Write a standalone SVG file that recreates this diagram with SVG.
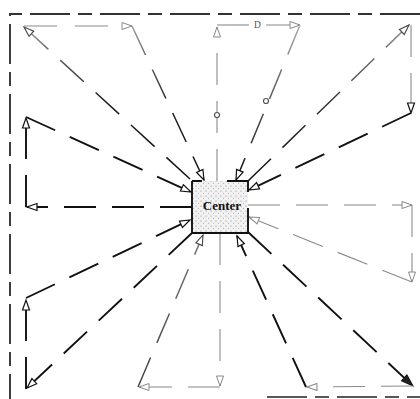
<svg xmlns="http://www.w3.org/2000/svg" width="420" height="399" viewBox="0 0 420 399">
<style>
  line, path.c { fill:none; stroke-dasharray:32 16; }
  .k { stroke:#111; stroke-width:1.9; }
  .m { stroke-width:1.5; }
  .g { stroke:#8a8a8a; stroke-width:1.1; }
  .frame { fill:none; stroke-dasharray:40 8 14 8; }
  .solid { stroke-dasharray:none; }
  .lbl { font-family:"Liberation Serif", "Times New Roman", serif; }
</style>
<defs>
  <linearGradient id="gS1" gradientUnits="userSpaceOnUse" x1="24" y1="27" x2="190" y2="179">
    <stop offset="0" stop-color="#999"/><stop offset="0.45" stop-color="#222"/><stop offset="1" stop-color="#111"/>
  </linearGradient>
  <linearGradient id="gS3" gradientUnits="userSpaceOnUse" x1="132" y1="26" x2="204" y2="180">
    <stop offset="0" stop-color="#999"/><stop offset="0.5" stop-color="#222"/><stop offset="1" stop-color="#111"/>
  </linearGradient>
  <linearGradient id="gS6" gradientUnits="userSpaceOnUse" x1="300" y1="25" x2="236" y2="180">
    <stop offset="0" stop-color="#aaa"/><stop offset="0.5" stop-color="#555"/><stop offset="1" stop-color="#111"/>
  </linearGradient>
  <linearGradient id="gS7" gradientUnits="userSpaceOnUse" x1="409" y1="25" x2="248" y2="181">
    <stop offset="0" stop-color="#999"/><stop offset="0.5" stop-color="#333"/><stop offset="1" stop-color="#111"/>
  </linearGradient>
  <linearGradient id="gS18" gradientUnits="userSpaceOnUse" x1="138" y1="387" x2="203" y2="235">
    <stop offset="0" stop-color="#444"/><stop offset="1" stop-color="#777"/>
  </linearGradient>
  <marker id="aK" markerUnits="userSpaceOnUse" markerWidth="12" markerHeight="9" refX="10" refY="3.5" orient="auto" overflow="visible">
    <path d="M0,0 L10,3.5 L0,7 z" fill="#fff" stroke="#111" stroke-width="1.2"/>
  </marker>
  <marker id="aM" markerUnits="userSpaceOnUse" markerWidth="12" markerHeight="9" refX="10" refY="3.5" orient="auto" overflow="visible">
    <path d="M0,0 L10,3.5 L0,7 z" fill="#fff" stroke="#444" stroke-width="1.1"/>
  </marker>
  <marker id="aG" markerUnits="userSpaceOnUse" markerWidth="12" markerHeight="9" refX="10" refY="3.5" orient="auto" overflow="visible">
    <path d="M0,0 L10,3.5 L0,7 z" fill="#fff" stroke="#888" stroke-width="1"/>
  </marker>
  <marker id="aF" markerUnits="userSpaceOnUse" markerWidth="14" markerHeight="10" refX="12" refY="4" orient="auto" overflow="visible">
    <path d="M0,0 L12,4 L0,8 z" fill="#222" stroke="#111" stroke-width="1"/>
  </marker>
  <pattern id="stip" width="5" height="5" patternUnits="userSpaceOnUse">
    <rect width="5" height="5" fill="#f2f2f2"/>
    <circle cx="1" cy="1" r="0.6" fill="#888"/>
    <circle cx="3.5" cy="3.2" r="0.5" fill="#999"/>
  </pattern>
</defs>

<g id="frame">
  <path class="frame" d="M420,14 L10,14 L10,399" stroke="#333" stroke-width="1.9"/>
  <line class="frame" x1="267" y1="397" x2="420" y2="397" stroke="#222" stroke-width="1.6" style="stroke-dasharray:40 8 14 8"/>
</g>

<g id="connectors">
  <!-- top-left loop -->
  <line class="m" stroke="url(#gS1)" x1="190" y1="179" x2="24" y2="27" marker-end="url(#aM)"/>
  <line class="g" x1="24" y1="26" x2="132" y2="26" marker-end="url(#aG)" style="stroke-dasharray:33 18"/>
  <line class="m" stroke="url(#gS3)" x1="132" y1="26" x2="204" y2="180" marker-end="url(#aK)"/>
  <!-- top-middle loop -->
  <line class="g" x1="217" y1="181" x2="217" y2="27" marker-end="url(#aG)"/>
  <line class="g solid" x1="217" y1="25" x2="249" y2="25"/>
  <line class="g solid" x1="266" y1="25" x2="300" y2="25" marker-end="url(#aG)"/>
  <line class="m" stroke="url(#gS6)" x1="300" y1="25" x2="236" y2="180" marker-end="url(#aK)"/>
  <circle cx="217" cy="115" r="2.5" fill="#fff" stroke="#555" stroke-width="1.2"/>
  <circle cx="266" cy="101" r="2.5" fill="#fff" stroke="#555" stroke-width="1.2"/>
  <!-- top-right loop -->
  <line class="m" stroke="url(#gS7)" x1="248" y1="181" x2="409" y2="25" marker-end="url(#aM)"/>
  <line class="g" x1="411" y1="25" x2="411" y2="113" marker-end="url(#aK)"/>
  <line class="k" x1="411" y1="113" x2="249" y2="190" marker-end="url(#aK)"/>
  <!-- right loop -->
  <line class="g" x1="248" y1="205" x2="412" y2="205" marker-end="url(#aG)"/>
  <line class="g" x1="412" y1="205" x2="412" y2="282" marker-end="url(#aG)"/>
  <line class="g" x1="412" y1="282" x2="249" y2="217" marker-end="url(#aG)"/>
  <!-- bottom-right loop -->
  <line class="k" x1="248" y1="232" x2="413" y2="386" marker-end="url(#aF)"/>
  <line class="g" x1="413" y1="386" x2="307" y2="387" marker-end="url(#aG)"/>
  <line class="k" x1="306" y1="387" x2="237" y2="236" marker-end="url(#aK)"/>
  <!-- bottom loop -->
  <line class="g" x1="220" y1="233" x2="220" y2="386" marker-end="url(#aG)"/>
  <line class="g" x1="220" y1="387" x2="139" y2="387" marker-end="url(#aG)"/>
  <line class="m" stroke="url(#gS18)" x1="138" y1="387" x2="203" y2="235" marker-end="url(#aM)"/>
  <!-- lower-left loop -->
  <line class="k" x1="192" y1="233" x2="27" y2="388" marker-end="url(#aK)"/>
  <line class="k" x1="26" y1="389" x2="26" y2="300" marker-end="url(#aK)"/>
  <line class="k" x1="26" y1="298" x2="190" y2="220" marker-end="url(#aK)"/>
  <!-- left loop -->
  <line class="k" x1="192" y1="207" x2="27" y2="207" marker-end="url(#aK)"/>
  <line class="k" x1="26" y1="207" x2="26" y2="118" marker-end="url(#aK)"/>
  <line class="k" x1="26" y1="117" x2="191" y2="192" marker-end="url(#aK)"/>
  <text class="lbl" x="254" y="28" font-size="9.5" fill="#555">D</text>
</g>

<g id="center">
  <rect x="192" y="181" width="56" height="52" fill="url(#stip)"/>
  <path d="M192,181 L192,233 L248,233 L248,208 M248,192 L248,181 L227,181 M202,181 L192,181" fill="none" stroke="#111" stroke-width="1.9"/>
  <text class="lbl" x="222" y="210" font-size="13" font-weight="bold" text-anchor="middle" fill="#111">Center</text>
</g>
</svg>
